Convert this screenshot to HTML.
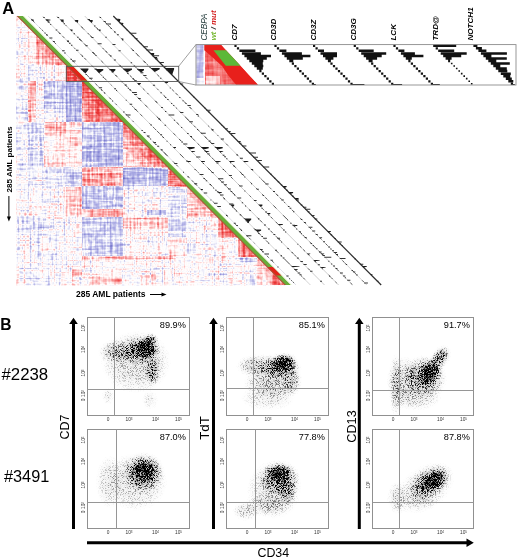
<!DOCTYPE html><html><head><meta charset="utf-8"><style>
html,body{margin:0;padding:0;background:#fff;}
body{width:520px;height:560px;overflow:hidden;position:relative;font-family:"Liberation Sans",sans-serif;}
svg{position:absolute;left:0;top:0;filter:blur(0.3px);}
</style></head><body>
<svg width="520" height="560" viewBox="0 0 520 560"><defs><clipPath id="tri"><path d="M16.2 15.8L17.3 15.8L285.8 285.5L16.2 285.5Z"/></clipPath><filter id="hb" x="0" y="0" width="1" height="1" color-interpolation-filters="sRGB"><feGaussianBlur stdDeviation="0.55"/></filter></defs><g clip-path="url(#tri)"><defs><filter id="tex" filterUnits="userSpaceOnUse" x="16" y="15.5" width="271" height="271" color-interpolation-filters="sRGB"><feTurbulence type="fractalNoise" baseFrequency="0.5 0.03" numOctaves="2" seed="3" result="a"/><feTurbulence type="fractalNoise" baseFrequency="0.03 0.5" numOctaves="2" seed="8" result="b"/><feTurbulence type="fractalNoise" baseFrequency="0.3" numOctaves="1" seed="11" result="c"/><feComposite in="a" in2="b" operator="arithmetic" k2="0.5" k3="0.5" result="ab"/><feComposite in="ab" in2="c" operator="arithmetic" k2="0.75" k3="0.25" result="m"/><feColorMatrix in="m" type="matrix" values="1 0 0 0 0 1 0 0 0 0 1 0 0 0 0 0 0 0 0 1" result="mg"/><feComposite in="SourceGraphic" in2="mg" operator="arithmetic" k2="1" k3="1.2" k4="-0.6" result="v"/><feComponentTransfer in="v"><feFuncR type="table" tableValues="0.420 0.467 0.513 0.560 0.620 0.680 0.740 0.822 0.904 0.975 1.000 1.000 0.997 0.994 0.990 0.980 0.970 0.960 0.943 0.927 0.910"/><feFuncG type="table" tableValues="0.420 0.467 0.513 0.560 0.620 0.680 0.740 0.822 0.904 0.975 1.000 0.975 0.899 0.809 0.720 0.627 0.533 0.440 0.360 0.280 0.200"/><feFuncB type="table" tableValues="0.760 0.790 0.820 0.850 0.873 0.897 0.920 0.945 0.970 0.992 1.000 0.975 0.899 0.809 0.720 0.627 0.533 0.440 0.360 0.280 0.200"/><feFuncA type="linear" slope="0" intercept="1"/></feComponentTransfer><feGaussianBlur stdDeviation="0.5"/></filter></defs><g filter="url(#tex)"><rect x="16" y="15.5" width="271" height="271" fill="#808080"/><path d="M16.2 14.9L28 26.7L16.2 26.7Z" fill="#8a8a8a"/><rect x="16.2" y="26.7" width="11.8" height="8" fill="#808080"/><path d="M28 26.7L36 34.8L28 34.8Z" fill="#8c8c8c"/><rect x="16.2" y="34.8" width="11.8" height="8" fill="#7d7d7d"/><rect x="28" y="34.8" width="8" height="8" fill="#8c8c8c"/><path d="M36 34.8L44 42.8L36 42.8Z" fill="#a3a3a3"/><rect x="16.2" y="42.8" width="11.8" height="22.1" fill="#7a7a7a"/><rect x="28" y="42.8" width="8" height="22.1" fill="#919191"/><rect x="36" y="42.8" width="8" height="22.1" fill="#a3a3a3"/><path d="M44 42.8L66 64.9L44 64.9Z" fill="#b0b0b0"/><rect x="16.2" y="64.9" width="11.8" height="16.1" fill="#919191"/><rect x="28" y="64.9" width="8" height="16.1" fill="#6b6b6b"/><rect x="36" y="64.9" width="8" height="16.1" fill="#707070"/><rect x="44" y="64.9" width="22" height="16.1" fill="#858585"/><path d="M66 64.9L82 81L66 81Z" fill="#ebebeb"/><rect x="16.2" y="81" width="11.8" height="41.2" fill="#757575"/><rect x="28" y="81" width="8" height="41.2" fill="#adadad"/><rect x="36" y="81" width="8" height="41.2" fill="#808080"/><rect x="44" y="81" width="22" height="41.2" fill="#585858"/><rect x="66" y="81" width="16" height="41.2" fill="#494949"/><path d="M82 81L123 122.1L82 122.1Z" fill="#b5b5b5"/><rect x="16.2" y="122.1" width="11.8" height="45.2" fill="#757575"/><rect x="28" y="122.1" width="8" height="45.2" fill="#606060"/><rect x="36" y="122.1" width="8" height="45.2" fill="#676767"/><rect x="44" y="122.1" width="22" height="45.2" fill="#999999"/><rect x="66" y="122.1" width="16" height="45.2" fill="#919191"/><rect x="82" y="122.1" width="41" height="45.2" fill="#535353"/><path d="M123 122.1L168 167.3L123 167.3Z" fill="#999999"/><rect x="16.2" y="167.3" width="11.8" height="19.1" fill="#787878"/><rect x="28" y="167.3" width="8" height="19.1" fill="#707070"/><rect x="36" y="167.3" width="8" height="19.1" fill="#737373"/><rect x="44" y="167.3" width="22" height="19.1" fill="#626262"/><rect x="66" y="167.3" width="16" height="19.1" fill="#5d5d5d"/><rect x="82" y="167.3" width="41" height="19.1" fill="#bababa"/><rect x="123" y="167.3" width="45" height="19.1" fill="#4b4b4b"/><path d="M168 167.3L187 186.4L168 186.4Z" fill="#cfcfcf"/><rect x="16.2" y="186.4" width="11.8" height="31.1" fill="#787878"/><rect x="28" y="186.4" width="8" height="31.1" fill="#828282"/><rect x="36" y="186.4" width="8" height="31.1" fill="#828282"/><rect x="44" y="186.4" width="22" height="31.1" fill="#808080"/><rect x="66" y="186.4" width="16" height="31.1" fill="#a8a8a8"/><rect x="82" y="186.4" width="41" height="31.1" fill="#535353"/><rect x="123" y="186.4" width="45" height="31.1" fill="#808080"/><rect x="168" y="186.4" width="19" height="31.1" fill="#707070"/><path d="M187 186.4L218 217.5L187 217.5Z" fill="#a3a3a3"/><rect x="16.2" y="217.5" width="11.8" height="20.1" fill="#7a7a7a"/><rect x="28" y="217.5" width="8" height="20.1" fill="#737373"/><rect x="36" y="217.5" width="8" height="20.1" fill="#737373"/><rect x="44" y="217.5" width="22" height="20.1" fill="#7d7d7d"/><rect x="66" y="217.5" width="16" height="20.1" fill="#808080"/><rect x="82" y="217.5" width="41" height="20.1" fill="#585858"/><rect x="123" y="217.5" width="45" height="20.1" fill="#8a8a8a"/><rect x="168" y="217.5" width="19" height="20.1" fill="#626262"/><rect x="187" y="217.5" width="31" height="20.1" fill="#7d7d7d"/><path d="M218 217.5L238 237.6L218 237.6Z" fill="#c4c4c4"/><rect x="16.2" y="237.6" width="11.8" height="19.1" fill="#7a7a7a"/><rect x="28" y="237.6" width="8" height="19.1" fill="#787878"/><rect x="36" y="237.6" width="8" height="19.1" fill="#787878"/><rect x="44" y="237.6" width="22" height="19.1" fill="#7d7d7d"/><rect x="66" y="237.6" width="16" height="19.1" fill="#7d7d7d"/><rect x="82" y="237.6" width="41" height="19.1" fill="#5b5b5b"/><rect x="123" y="237.6" width="45" height="19.1" fill="#808080"/><rect x="168" y="237.6" width="19" height="19.1" fill="#8c8c8c"/><rect x="187" y="237.6" width="31" height="19.1" fill="#7d7d7d"/><rect x="218" y="237.6" width="20" height="19.1" fill="#878787"/><path d="M238 237.6L257 256.7L238 256.7Z" fill="#c4c4c4"/><rect x="16.2" y="256.7" width="11.8" height="28.3" fill="#7a7a7a"/><rect x="28" y="256.7" width="8" height="28.3" fill="#7a7a7a"/><rect x="36" y="256.7" width="8" height="28.3" fill="#7a7a7a"/><rect x="44" y="256.7" width="22" height="28.3" fill="#7a7a7a"/><rect x="66" y="256.7" width="16" height="28.3" fill="#7d7d7d"/><rect x="82" y="256.7" width="41" height="28.3" fill="#828282"/><rect x="123" y="256.7" width="45" height="28.3" fill="#828282"/><rect x="168" y="256.7" width="19" height="28.3" fill="#828282"/><rect x="187" y="256.7" width="31" height="28.3" fill="#808080"/><rect x="218" y="256.7" width="20" height="28.3" fill="#808080"/><rect x="238" y="256.7" width="19" height="28.3" fill="#7d7d7d"/><path d="M257 256.7L285.2 285L257 285Z" fill="#9e9e9e"/><rect x="44" y="122" width="22" height="12" fill="#b2b2b2"/><rect x="44" y="113" width="22" height="9" fill="#757575"/><rect x="44" y="163" width="22" height="2" fill="#b2b2b2"/><rect x="82" y="209" width="41" height="8" fill="#b2b2b2"/><rect x="82" y="256" width="91" height="3.5" fill="#adadad"/><rect x="147" y="210" width="19" height="5" fill="#4c4c4c"/><rect x="239" y="258" width="18" height="4" fill="#666666"/><rect x="72.6" y="268.6" width="9.4" height="8" fill="#b2b2b2"/><rect x="90" y="276.6" width="32" height="8" fill="#a8a8a8"/><rect x="17" y="217.5" width="11" height="12.5" fill="#5c5c5c"/><rect x="82" y="167.3" width="41" height="5.7" fill="#adadad"/><rect x="123" y="217.5" width="45" height="10.5" fill="#a8a8a8"/><rect x="17" y="217.5" width="27" height="12.5" fill="#616161"/><path d="M82 81L123 122.1L93 122.1L82 111Z" fill="#c4c4c4"/><path d="M82 81L123 122.1L105 122.1L82 99Z" fill="#d4d4d4"/><path d="M82 81L123 122.1L115 122.1L82 89Z" fill="#e6e6e6"/><path d="M123 122.1L168 167.3L144 167.3L123 146.1Z" fill="#ababab"/><path d="M123 122.1L168 167.3L154 167.3L123 136.1Z" fill="#bfbfbf"/><path d="M123 122.1L168 167.3L162 167.3L123 128.1Z" fill="#cfcfcf"/><path d="M187 186.4L218 217.5L206 217.5L187 198.4Z" fill="#a6a6a6"/><path d="M187 186.4L218 217.5L212 217.5L187 192.4Z" fill="#b5b5b5"/><path d="M257 256.7L285.2 285L275.2 285L257 266.7Z" fill="#a1a1a1"/><path d="M257 256.7L285.2 285L280.2 285L257 261.7Z" fill="#b0b0b0"/><path d="M36 34.8L66 64.9L46 64.9L36 54.8Z" fill="#ababab"/><path d="M36 34.8L66 64.9L56 64.9L36 44.8Z" fill="#bababa"/><path d="M66 64.9L82 81L66 81Z" fill="#f2f2f2"/><path d="M172 171.3L187 186.4L172 186.4Z" fill="#e0e0e0"/><path d="M221 220.5L238 237.6L221 237.6Z" fill="#dbdbdb"/><path d="M241 240.6L257 256.7L241 256.7Z" fill="#dbdbdb"/><path d="M272 271.7L285.2 285L272 285Z" fill="#cccccc"/></g></g><path d="M17.3 16L23.1 16L291 285L285.2 285Z" fill="#68ad3a"/><path d="M68.1 67L73.9 67L87.3 80.5L81.5 80.5Z" fill="#e02418"/><path d="M267.3 267L273.1 267L281.6 275.5L275.8 275.5Z" fill="#e02418"/><path d="M16.7 16L18.1 16L286 285L284.6 285Z" fill="#b04830"/><path d="M23.1 16L24.3 16L292.2 285L291 285Z" fill="#eef6dc"/><path d="M28.1 16L296 285" stroke="#d8d8e2" stroke-width="0.8"/><path d="M42.5 16L310.4 285" stroke="#c8c8c8" stroke-width="0.8"/><path d="M56.6 16L324.5 285" stroke="#c0c0c0" stroke-width="0.8"/><path d="M70.7 16L338.6 285" stroke="#c0c0c0" stroke-width="0.8"/><path d="M84.7 16L352.6 285" stroke="#c4c4c4" stroke-width="0.8"/><path d="M98.9 16L366.8 285" stroke="#c8c8c8" stroke-width="0.8"/><path d="M113.3 16L381.2 285" stroke="#2c2c2c" stroke-width="1.2"/><path d="M195.1 183.7L196.1 184.7M266.9 255.8L268.8 257.7M234.8 223.6L236.2 224.9M89.5 77.7L91.7 79.9M109.3 97.5L110.9 99.2M260.7 249.5L262.3 251.1M31.5 19.4L33.2 21.1M246.8 235.6L248.6 237.4M240.5 229.2L241.5 230.2M153.6 142L155 143.4M110.1 98.3L111.2 99.4M103.6 91.8L104.9 93.1M97.4 85.5L98.3 86.5M147.6 135.9L149.7 138.1M163.3 151.7L164.4 152.8M176.2 164.7L177.9 166.4M292.8 281.8L294.1 283M239.3 228.1L241.3 230.1M194.3 182.9L196 184.6M291.1 280.1L292.1 281.1M86.9 75.1L88.9 77M72.4 60.5L74.5 62.6M191.8 180.3L193.8 182.4M41.7 29.6L43.3 31.2M39.5 27.5L40.5 28.5M166 154.4L167.1 155.5M153.1 141.5L155.2 143.6M272.2 261L273.7 262.6M196.2 184.7L197.2 185.8M165.8 154.2L167.8 156.3M161.2 149.7L162.9 151.4M95.4 83.6L97 85.2M33.2 21.1L34.5 22.5M80.9 69L82.2 70.4M212.7 201.4L213.9 202.5M83 71.2L83.9 72M127.6 115.9L129.6 118M31.1 19L32.5 20.4M249.2 238L250.7 239.5M70.9 58.9L72.1 60.2M100.7 88.9L102.6 90.8M262.4 251.3L263.3 252.1M164.6 153.1L166 154.4M253.7 242.5L254.5 243.3M198.9 187.5L199.9 188.5M225.9 214.6L228 216.7M54.2 42.2L56 44M172.9 161.4L174.3 162.8M164.1 152.6L165.6 154.1M260.1 248.9L262.1 250.9M125.4 113.7L126.7 115M188 176.5L189.6 178.1M45.7 33.7L47.5 35.5M132.4 120.7L133.7 122M115.4 103.6L116.9 105.1M246.5 220.8L247.9 222.3M284.5 258.9L286.1 260.6M84.4 58L86.1 59.8M290.9 265.4L292.1 266.6M45.9 19.4L48 21.5M243.2 217.5L244.7 219M258.4 232.8L260.1 234.5M80.6 54.2L82.3 55.9M155.1 129L156.1 130.1M259.7 234L260.6 234.9M48.3 21.8L49.6 23.2M210.4 184.5L212.2 186.4M253.8 228.2L255.7 230.1M179.9 153.9L181.7 155.8M236.1 210.4L237 211.3M104.3 78L106.3 80.1M96.9 70.6L98.8 72.5M140.3 114.2L142.4 116.3M91.8 65.5L93.4 67.1M135.8 109.7L137.9 111.8M294.7 269.3L295.6 270.1M195.8 169.9L196.7 170.8M134.2 108.1L135.1 108.9M116.2 90L117.3 91.1M295.8 270.3L296.9 271.4M161.8 135.8L162.9 136.8M303.3 277.8L304.8 279.4M180.6 154.6L181.4 155.5M182 156.1L183.7 157.7M281.1 255.6L282.2 256.6M240.5 214.8L242.3 216.6M197.7 171.9L198.6 172.7M157.1 131.1L158.3 132.3M276.3 250.7L278.4 252.8M153.1 127.1L154.7 128.6M288 262.5L290 264.5M62.6 36.2L64.3 37.9M158 131.9L159.6 133.6M181.6 155.7L182.7 156.7M295.5 270L297.1 271.6M110.7 84.5L111.6 85.4M257.2 231.6L259.2 233.5M223 197.3L225.2 199.4M233.8 208L235.7 210M210.7 184.8L211.5 185.7M300.9 275.5L302.2 276.7M132.3 106.2L133.5 107.4M149.6 123.5L150.6 124.5M98 71.8L99.7 73.4M57.9 31.4L59.8 33.4M100.7 74.4L101.9 75.7M286.1 260.6L288.1 262.6M266.2 240.6L268.2 242.6M74.2 47.8L75.1 48.8M203.9 178L205.7 179.9M291.6 251.9L293.3 253.7M110.7 70.3L111.6 71.2M210 170L211.8 171.8M227.2 187.3L229.1 189.2M219.4 179.5L221.4 181.4M84 43.5L85.7 45.2M233.1 193.2L234.4 194.5M225.4 185.5L226.3 186.4M276 236.3L277.6 237.9M270.7 230.9L272.5 232.8M144.9 104.7L146 105.8M249.2 209.3L250.3 210.5M287.5 247.8L289 249.4M294.3 254.6L296.1 256.5M101.2 60.8L103.3 62.9M65.6 25.1L66.6 26.1M230.4 190.5L231.4 191.5M115.3 74.9L117.2 76.8M207.4 167.4L209.1 169.1M308 268.4L309.8 270.2M158.7 118.5L160.9 120.7M125.3 85L127.4 87.1M179.1 139L181.1 141M232.1 192.2L233.9 194.1M85.3 44.8L86.6 46.1M159 118.9L160.7 120.6M93.9 53.4L94.9 54.5M233.4 193.5L235.3 195.4M277.8 238.1L279.7 240M158.1 117.9L159.9 119.7M156.7 116.5L158.1 117.9M201 161L202.3 162.3M115.4 75L116.7 76.4M123.9 83.6L124.7 84.4M145.7 105.4L147.6 107.4M179.3 139.2L180.9 140.8M80.1 39.6L81.4 40.9M257.3 217.5L258.8 219M211.4 171.4L213.2 173.3M137.7 97.4L139 98.8M79.1 38.5L81 40.5M260 220.2L262.1 222.3M93.2 52.7L94.5 54.1M93.8 53.3L94.7 54.3M93.1 52.6L94.9 54.5M80 39.5L82.2 41.7M297.8 258.2L298.8 259.2M129.7 89.3L131.4 91.1M139.5 99.2L141.4 101.2M278.4 238.7L280.5 240.8M222.2 182.3L223.2 183.3M108 67.6L108.9 68.5M173.4 133.2L175.5 135.4M291.9 252.2L292.9 253.2M157.7 117.5L158.7 118.5M224.4 170.4L225.9 171.8M190.5 136.3L192.5 138.3M270.8 216.9L272.6 218.7M123 68.5L124.9 70.5M314 260.3L315.9 262.2M130 75.6L131.8 77.3M275.7 221.8L277.7 223.8M90.5 35.9L92.3 37.7M197.6 143.5L199.5 145.3M81.3 26.6L82.5 27.9M155.5 101.2L156.5 102.2M155.1 100.7L157 102.6M262.7 208.7L263.7 209.8M192.8 138.6L194.9 140.7M87.7 33L89.3 34.7M335.4 281.8L336.7 283M307.3 253.5L309.4 255.6M314.5 260.8L315.6 261.8M137.8 83.3L139.3 84.9M176.7 122.4L177.6 123.4M132.7 78.2L134.8 80.4M105.7 51.1L107.3 52.7M81.4 26.8L83.3 28.7M205.5 151.4L206.7 152.6M105.2 50.6L107.1 52.6M119.2 64.7L121 66.5M299.8 246L301.5 247.7M200.5 146.3L202.6 148.5M121.2 66.7L122.6 68.1M249.5 195.5L250.9 196.9M142.9 88.5L144.6 90.2M211.8 157.6L213.7 159.6M147.4 93L148.6 94.3M208.9 154.8L210.7 156.5M238.6 184.6L239.7 185.7M214.2 160.1L215.8 161.7M177.1 122.8L179 124.7M281.4 227.6L282.3 228.5M303.2 249.5L305 251.3M120 65.5L120.9 66.4M108.7 54.1L110.8 56.3M102.6 48L104 49.5M331.2 277.6L332.6 279M321.2 267.5L323 269.3M133.6 79.1L135.1 80.7M328.7 275L330.5 276.8M127.5 73.1L128.5 74M206.4 152.2L208 153.8M204 149.8L205.5 151.4M314.2 260.5L316.3 262.6M83.4 28.7L84.2 29.6M155.9 101.6L157.4 103M231 177L232.7 178.7M90.2 35.6L91.8 37.2M135.1 80.7L136 81.6M243.3 175.2L244.2 176.1M145.3 76.9L147.3 78.9M138.3 69.8L139.5 71.1M318.6 250.9L320.1 252.3M138.9 70.4L140 71.5M206.6 138.4L208 139.8M284.7 216.8L286.7 218.8M273.4 205.4L275.3 207.4M232.8 164.7L234.2 166.1M299.7 231.9L301.6 233.7M209.6 141.4L211.1 142.9M250.4 182.4L251.8 183.7M302.8 235L304.4 236.6M265.7 197.7L266.7 198.8M256.1 188.1L257.3 189.3M193.9 125.6L195.7 127.4M234.1 166L235.9 167.8M191.2 123L192.1 123.8M283.1 215.2L285 217.1M187.1 118.8L189 120.8M209.9 141.7L211.3 143.1M286.1 218.2L287 219.1M219.6 151.5L221.4 153.2M175.9 107.6L177.1 108.7M304.9 237.1L306.6 238.8M187.2 119L188.6 120.3M309.6 241.9L311.3 243.5M293.9 226.1L295.1 227.3M204.7 136.5L206.2 138M274.9 206.9L276.4 208.5M95.8 27.1L97.4 28.8M189.6 121.3L190.7 122.4M313.8 246L315.9 248.1M239.7 171.6L240.9 172.8M233.9 165.8L235.1 167.1M262.1 194.2L263.3 195.3M265.6 197.6L266.4 198.5M240.7 172.7L242.1 174M197.7 129.5L199.6 131.3M135.1 66.6L136.9 68.4M163.9 95.6L165 96.6M164 95.6L165 96.6M200.4 132.1L201.6 133.4M350.4 282.8L352.3 284.6M179.7 111.4L181.2 112.9M204.8 136.6L206.9 138.6M184.8 116.5L186.5 118.2M240.2 172.1L241.8 173.7M336.9 269.2L338.7 271.1M321.4 253.6L323.2 255.5M186.2 117.9L187.5 119.2M157.1 88.7L158.3 89.9M320.1 252.4L321.5 253.8M217 148.9L218.5 150.4M267.6 199.7L268.6 200.7M217.4 135L218.4 136M269.8 187.6L271 188.8M136.7 54L138.1 55.4M137.3 54.6L139.4 56.7M146.7 64L147.9 65.2M175.7 93.1L177.7 95.1M354.7 272.9L356.5 274.6M107.7 24.8L109.7 26.8M149.4 66.7L150.7 68.1M144.5 61.7L145.3 62.5M226.1 143.7L228 145.6M104.9 22L106 23.1M221.8 139.4L222.8 140.4M143.9 61.2L145.8 63.1M172.1 89.5L173.8 91.2M310 228L311.1 229.1M149.5 66.8L150.6 68M263.8 181.5L265.9 183.7M208.1 125.7L209.3 126.8M211.1 128.7L212.9 130.4M316.5 234.5L317.5 235.4M143.4 60.6L145.3 62.6M344.7 262.8L345.7 263.8M336.7 254.8L338.2 256.3M277.3 195.1L278.1 196M113.9 31.1L115.5 32.7M276 193.8L277.9 195.8M259.3 177.1L260.3 178M304.7 222.6L305.9 223.8M157.3 74.7L159.2 76.5M352.5 270.6L354.2 272.3M334.8 252.8L336 254.1M131.1 48.3L132.7 50M184.1 101.5L185.5 103M109.5 26.6L111.5 28.6M320.2 238.2L321.4 239.4M342.4 260.5L344.3 262.4M362.1 280.3L363.8 282M262.4 180.2L264.2 182M276.7 194.5L278 195.8M280 197.8L281.8 199.6M251.4 169.1L253.1 170.9M352.3 270.4L353.6 271.7M261.3 179.1L262.2 179.9M189.5 107L191.6 109.1M236.3 153.9L238.1 155.7M105.8 22.9L106.9 24M292 209.9L293.8 211.7M284 201.9L285.2 203.1M212 129.6L213.5 131M325.6 243.6L327.6 245.6M300.3 218.2L301.7 219.6M189.8 107.2L191 108.4M121.3 38.5L122.6 39.8M135.8 53L136.7 53.9" stroke="#555" stroke-width="0.9"/><path d="M31.3 19.5L33.6 19.5L33.6 20.5L33.6 21.5ZM45.7 19.5L48.5 19.5L48.5 20.8L48.5 22ZM59.8 19.5L63.6 19.5L63.6 20.8L63.6 23ZM74.4 20L78.2 20L78.2 21.3L77.7 23ZM88.4 20L92.7 20L92.7 21.3L91.7 23ZM116 19L120.3 19L120.3 20.3L119.3 22ZM120 23L123.3 23L123.3 24L122.3 25ZM69.7 29.5L72.5 29.5L72.5 30.5L72 31.5ZM97.8 29.5L100.6 29.5L100.6 30.5L100.1 31.5ZM149.9 53L154.2 53L154.2 54.3L153.1 56ZM153.8 57L157.1 57L157.1 58L156.1 59ZM121 38.5L123.3 38.5L123.3 39.5L123.3 40.5ZM66.6 40.5L68.9 40.5L68.9 41.5L68.9 42.5ZM80.1 68.5L88.4 68.5L88.4 69.8L85.4 73.5ZM95 69L103.3 69L103.3 70.3L99.3 73ZM109.1 69L115.4 69L115.4 70.3L112.9 72.5ZM122.7 68.5L132 68.5L132 69.8L127 72.5ZM137.2 69L144 69L144 70.3L141 72.5ZM150.4 68L159.7 68L159.7 69.3L154.7 72ZM164.8 68L174.1 68L174.1 69.3L172.1 75ZM137.1 83L140.9 83L140.9 83.8L138.9 84.5ZM164.3 82L168.1 82L168.1 82.8L166.1 83.5ZM172.7 147L176 147L176 147.8L174.5 148.5ZM186.8 147L194.6 147L194.6 148.2L189.6 149.5ZM200.9 147L208.7 147L208.7 148.2L203.7 149.5ZM214.9 147L222.7 147L222.7 148.2L217.7 149.5ZM190.8 151L195.1 151L195.1 151.6L192.3 152.2ZM204.9 151L209.2 151L209.2 151.6L206.4 152.2ZM218.9 151L223.2 151L223.2 151.6L220.4 152.2ZM186.6 161L190.9 161L190.9 161.7L188.2 162.3ZM200.7 161L205 161L205 161.7L202.3 162.3ZM214.8 161L220.6 161L220.6 161.7L216.4 162.3ZM228.8 161L234.6 161L234.6 161.7L230.4 162.3ZM243 161L248.3 161L248.3 161.7L244.6 162.3ZM200.1 189L202.9 189L202.9 189.8L201.9 190.5ZM217.5 192L221.8 192L221.8 192.8L219.3 193.5ZM229.9 204.5L234.2 204.5L234.2 205.8L232.7 207ZM258.1 204.5L262.4 204.5L262.4 205.8L260.9 207ZM266.6 213L270.4 213L270.4 213.8L268.4 214.5ZM243.9 218.5L251.2 218.5L251.2 219.8L248.2 222.5ZM277.6 224L282.9 224L282.9 224.8L279.4 225.5ZM292.6 225L297.4 225L297.4 225.8L294.4 226.5ZM254.8 229.5L261.1 229.5L261.1 230.8L257.6 232ZM327.1 231L330.9 231L330.9 231.8L328.9 232.5ZM282.3 186L286.6 186L286.6 187L284.6 188ZM288.3 192L293.1 192L293.1 193L290.6 194ZM294.3 198L298.6 198L298.6 199L296.6 200ZM313.4 260L319.7 260L319.7 260.6L315 261.3ZM291.2 266L299.5 266L299.5 266.6L292.8 267.3ZM320.4 267L325.7 267L325.7 267.6L322 268.3ZM362 266L366.8 266L366.8 266.8L363.8 267.5ZM307 253.5L310.3 253.5L310.3 254.1L308.4 254.7ZM320.9 253.5L324.2 253.5L324.2 254.1L322.4 254.7Z" fill="#1c1c1c"/><path d="M31.6 19.7h1.2v1h-1.2zM44.4 32.5h1.1v1h-1.1zM46.2 34.4h1.6v1h-1.6zM49.4 37.6h3v1h-3zM52.9 41.1h1.9v1h-1.9zM62.1 50.3h2.6v1h-2.6zM64.2 52.4h1.5v1h-1.5zM70.5 58.8h1.2v1h-1.2zM72.2 60.5h3.4v1h-3.4zM85.6 73.9h1.3v1h-1.3zM89.3 77.7h3.3v1h-3.3zM98.8 87.2h3.3v1h-3.3zM101.1 89.5h1v1h-1zM104.3 92.7h1v1h-1zM112 100.4h1.1v1h-1.1zM123.1 111.6h1.5v1h-1.5zM125.9 114.4h4.7v1h-4.7zM141.5 130h1.3v1h-1.3zM143.6 132.1h1.9v1h-1.9zM146.9 135.5h2.7v1h-2.7zM150.1 138.6h1v1h-1zM153.5 142.1h2.5v1h-2.5zM155.4 144h1.1v1h-1.1zM157.2 145.8h2v1h-2zM160.7 149.3h1.9v1h-1.9zM174.2 162.9h3.2v1h-3.2zM183 171.7h1v1h-1zM187.5 176.2h1.2v1h-1.2zM194.4 183.2h2.8v1h-2.8zM203.8 192.6h3.4v1h-3.4zM210.5 199.4h0.9v1h-0.9zM214 202.8h3.6v1h-3.6zM217.3 206.1h3.6v1h-3.6zM226 214.9h1.4v1h-1.4zM233.8 222.7h1.9v1h-1.9zM236.2 225.1h1.7v1h-1.7zM240.9 229.9h1.1v1h-1.1zM246.2 235.2h5.2v1h-5.2zM259.9 248.9h2.8v1h-2.8zM262.1 251.2h1.6v1h-1.6zM264.5 253.5h4.5v1h-4.5zM270.6 259.7h2.2v1h-2.2zM277.4 266.5h1.1v1h-1.1zM286.4 275.5h2.2v1h-2.2zM289.1 278.3h1v1h-1zM43.3 17h1.4v1h-1.4zM45.9 19.6h4.5v1h-4.5zM47.7 21.4h1.9v1h-1.9zM50.2 23.9h1v1h-1zM55.7 29.5h1.6v1h-1.6zM59.3 33.1h1.2v1h-1.2zM67.2 41h1.7v1h-1.7zM69 42.8h1.6v1h-1.6zM71 44.8h1.4v1h-1.4zM76 49.8h2.5v1h-2.5zM81.9 55.7h1.2v1h-1.2zM94.5 68.4h2.2v1h-2.2zM102.8 76.7h1.2v1h-1.2zM114.2 88.2h1.8v1h-1.8zM116 89.9h0.9v1h-0.9zM125.8 99.8h0.9v1h-0.9zM129.7 103.8h2.5v1h-2.5zM134.8 108.9h1.5v1h-1.5zM150.5 124.6h1.4v1h-1.4zM160.1 134.2h2v1h-2zM162.8 137h1.1v1h-1.1zM166.6 140.8h0.9v1h-0.9zM170.1 144.3h1v1h-1zM186.1 160.4h1.6v1h-1.6zM194.6 168.9h1v1h-1zM199.6 174h3.9v1h-3.9zM203.5 177.9h1.3v1h-1.3zM205.8 180.2h1.4v1h-1.4zM209.6 183.9h1.4v1h-1.4zM213 187.4h0.9v1h-0.9zM215.3 189.7h1.3v1h-1.3zM216.9 191.3h1.7v1h-1.7zM220 194.4h3.5v1h-3.5zM223.8 198.3h1v1h-1zM229 203.4h4.3v1h-4.3zM232.3 206.8h1.2v1h-1.2zM235.9 210.4h1v1h-1zM239.7 214.2h1.4v1h-1.4zM245.7 220.2h1.1v1h-1.1zM247.3 221.9h1.7v1h-1.7zM254.7 229.3h1.2v1h-1.2zM258.3 232.9h1v1h-1zM261.4 236h1.6v1h-1.6zM263.2 237.8h3.7v1h-3.7zM268.2 242.8h1v1h-1zM275.1 249.8h1.9v1h-1.9zM280.5 255.2h1.5v1h-1.5zM282.8 257.4h1.7v1h-1.7zM294.2 269h3.4v1h-3.4zM297.7 272.4h2.5v1h-2.5zM299.5 274.2h2v1h-2zM57.4 17h1.7v1h-1.7zM61.2 20.8h1.2v1h-1.2zM63.7 23.3h1.3v1h-1.3zM73.6 33.3h1.4v1h-1.4zM77.1 36.8h1.5v1h-1.5zM79 38.7h1.2v1h-1.2zM85.6 45.3h2.1v1h-2.1zM92.3 52h1.3v1h-1.3zM95.4 55.1h1.2v1h-1.2zM109.4 69.2h1v1h-1zM111.7 71.5h1.9v1h-1.9zM121.4 81.3h1.5v1h-1.5zM124.7 84.6h2v1h-2zM127.8 87.7h1.2v1h-1.2zM129.3 89.2h1.5v1h-1.5zM132 91.9h4.8v1h-4.8zM134.2 94.1h2.9v1h-2.9zM138.1 98h2.6v1h-2.6zM158.4 118.4h1.7v1h-1.7zM164.6 124.7h1.5v1h-1.5zM181.3 141.4h1.6v1h-1.6zM183.3 143.4h4.1v1h-4.1zM196.2 156.4h4.2v1h-4.2zM202.9 163.1h0.9v1h-0.9zM208.8 169h1v1h-1zM211.7 172h1.9v1h-1.9zM218 178.2h5.3v1h-5.3zM221.1 181.4h3v1h-3zM223.9 184.2h3v1h-3zM228.3 188.6h2.5v1h-2.5zM230.6 190.9h1.6v1h-1.6zM234.2 194.5h0.9v1h-0.9zM237.3 197.6h3.9v1h-3.9zM241.8 202.2h1.3v1h-1.3zM245 205.4h1.1v1h-1.1zM249.5 209.9h1.2v1h-1.2zM258 218.4h1.5v1h-1.5zM264 224.4h1.9v1h-1.9zM268 228.4h1.8v1h-1.8zM273.4 233.9h1.9v1h-1.9zM277.3 237.8h2.8v1h-2.8zM281 241.5h1.1v1h-1.1zM287.5 248h1.1v1h-1.1zM296.9 257.5h1.8v1h-1.8zM300.4 261h2.5v1h-2.5zM303.5 264.1h3.2v1h-3.2zM310.1 270.7h2.4v1h-2.4zM320.1 280.8h1.9v1h-1.9zM75.2 20.8h1.4v1h-1.4zM91.6 37.1h1.9v1h-1.9zM97.6 43.2h4v1h-4zM110 55.6h1.6v1h-1.6zM113.9 59.6h2v1h-2zM120.1 65.8h1v1h-1zM127 72.7h1.7v1h-1.7zM132.5 78.2h1.4v1h-1.4zM134.4 80.2h2.4v1h-2.4zM138 83.8h2.1v1h-2.1zM161.1 106.9h1.8v1h-1.8zM165 110.9h1.3v1h-1.3zM168.6 114.5h5.7v1h-5.7zM173.9 119.8h1.2v1h-1.2zM181.1 127h1.1v1h-1.1zM187.1 133h1.5v1h-1.5zM190.1 136.1h1.9v1h-1.9zM204.6 150.6h1.4v1h-1.4zM207.5 153.5h2.2v1h-2.2zM216.5 162.6h2.1v1h-2.1zM222.8 168.9h1.1v1h-1.1zM228.9 175h3v1h-3zM239.4 185.6h3.2v1h-3.2zM244.4 190.6h0.9v1h-0.9zM253.9 200.1h2.7v1h-2.7zM261.5 207.8h1.2v1h-1.2zM265.2 211.5h1.9v1h-1.9zM268.2 214.5h1.3v1h-1.3zM283 229.4h1.7v1h-1.7zM285.1 231.5h1.1v1h-1.1zM297.4 243.8h0.9v1h-0.9zM317.8 264.3h2.1v1h-2.1zM320.5 267h1.4v1h-1.4zM329.2 275.7h1v1h-1zM87.6 19.1h2.4v1h-2.4zM94 25.6h1.5v1h-1.5zM97 28.6h1v1h-1zM105.3 36.8h1.5v1h-1.5zM112.5 44.1h3v1h-3zM118.5 50.2h2.2v1h-2.2zM130.7 62.3h1.4v1h-1.4zM133.7 65.4h1.4v1h-1.4zM137 68.7h1.7v1h-1.7zM140.5 72.2h2.9v1h-2.9zM143.3 75h3.2v1h-3.2zM152.9 84.7h2.2v1h-2.2zM160.4 92.2h1.4v1h-1.4zM165.1 97h1.2v1h-1.2zM167.2 99.1h1.4v1h-1.4zM171.1 102.9h1.1v1h-1.1zM173.2 105.1h1.1v1h-1.1zM180.2 112.1h3.2v1h-3.2zM189.4 121.3h3.5v1h-3.5zM197 129h1v1h-1zM200.9 132.8h4.8v1h-4.8zM208.5 140.5h2.1v1h-2.1zM211.1 143.1h3.2v1h-3.2zM214.8 146.8h1.2v1h-1.2zM222.7 154.7h1.8v1h-1.8zM224.2 156.3h1.7v1h-1.7zM226.2 158.2h1.2v1h-1.2zM230.1 162.2h1v1h-1zM233.6 165.7h1.3v1h-1.3zM241.8 173.9h1.5v1h-1.5zM244.3 176.4h1v1h-1zM251 183.2h1.1v1h-1.1zM256.7 188.8h2.1v1h-2.1zM262.7 194.9h1.4v1h-1.4zM287 219.3h0.9v1h-0.9zM290.3 222.7h1.2v1h-1.2zM292.5 224.8h2.4v1h-2.4zM296.1 228.4h1.1v1h-1.1zM298.9 231.3h2v1h-2zM301 233.3h0.9v1h-0.9zM304.7 237h1.9v1h-1.9zM310.7 243.1h1.4v1h-1.4zM312.7 245.1h1.2v1h-1.2zM315.9 248.3h1.6v1h-1.6zM319.1 251.5h2.5v1h-2.5zM322.5 255h2.4v1h-2.4zM324.3 256.7h7v1h-7zM328.3 260.7h1.1v1h-1.1zM331.1 263.6h1.1v1h-1.1zM333.1 265.6h1.9v1h-1.9zM335.5 268h1.9v1h-1.9zM340 272.5h2.9v1h-2.9zM343.1 275.6h2.2v1h-2.2zM344.8 277.3h1.1v1h-1.1zM347.2 279.7h3.2v1h-3.2zM99.7 17h1.4v1h-1.4zM103.6 20.9h2.1v1h-2.1zM106.2 23.5h4.8v1h-4.8zM110.7 28h1v1h-1zM114.2 31.6h1.4v1h-1.4zM116.9 34.2h1.9v1h-1.9zM122.1 39.5h1v1h-1zM132.5 49.9h1.5v1h-1.5zM160.1 77.7h1.3v1h-1.3zM169.8 87.4h1v1h-1zM179.2 96.9h1.2v1h-1.2zM182.5 100.2h1.1v1h-1.1zM185.4 103.1h1.2v1h-1.2zM187.5 105.1h3.3v1h-3.3zM196.2 113.9h2.1v1h-2.1zM197.7 115.4h1.3v1h-1.3zM211.6 129.3h2v1h-2zM220.8 138.6h3.2v1h-3.2zM236.6 154.4h1.3v1h-1.3zM239.9 157.8h3v1h-3zM250.9 168.9h2.2v1h-2.2zM265.5 183.4h3.1v1h-3.1zM273 191h2v1h-2zM281.4 199.5h2.4v1h-2.4zM287.9 205.9h1.6v1h-1.6zM289.6 207.7h1.7v1h-1.7zM293.1 211.2h1.2v1h-1.2zM300.8 218.9h1.5v1h-1.5zM303.9 222h1.9v1h-1.9zM308.6 226.8h3.8v1h-3.8zM312.2 230.4h3v1h-3zM315.7 233.9h2v1h-2zM319.2 237.3h2.9v1h-2.9zM323.1 241.3h1.9v1h-1.9zM328.2 246.4h1.9v1h-1.9zM330.3 248.5h1.3v1h-1.3zM332.1 250.3h1.9v1h-1.9zM333.7 251.9h3.4v1h-3.4zM335.9 254.1h2.1v1h-2.1zM339.7 257.9h5.8v1h-5.8zM345.8 264.1h1.3v1h-1.3zM351.6 270h1.3v1h-1.3zM353.3 271.6h2v1h-2zM356.3 274.6h1.4v1h-1.4zM364.1 282.5h3.8v1h-3.8zM115.8 18.8h3.5v1h-3.5zM119.8 22.7h2.8v1h-2.8zM126.8 29.8h1.1v1h-1.1zM129.8 32.8h6.6v1h-6.6zM132 35h1.5v1h-1.5zM134.9 37.9h2.6v1h-2.6zM139.9 42.9h1.5v1h-1.5zM143.3 46.3h4.6v1h-4.6zM146.5 49.6h6.5v1h-6.5zM152.1 55.2h7v1h-7zM155.5 58.6h2.6v1h-2.6zM159 62.1h4.9v1h-4.9zM162.8 65.9h3.8v1h-3.8zM166.4 69.6h1.3v1h-1.3zM177.1 80.3h1.2v1h-1.2zM180.3 83.5h2.9v1h-2.9zM184.8 88h1v1h-1zM193.3 96.5h1v1h-1zM204.6 107.8h1.1v1h-1.1zM206.4 109.7h4.2v1h-4.2zM208.3 111.6h1.5v1h-1.5zM221.6 125h1.5v1h-1.5zM223.2 126.6h1.1v1h-1.1zM224.9 128.3h3v1h-3zM227.8 131.1h2.9v1h-2.9zM229.7 133.1h5.7v1h-5.7zM231.6 134.9h1.2v1h-1.2zM237.6 141h3.1v1h-3.1zM239.4 142.8h2v1h-2zM242 145.4h4.4v1h-4.4zM246.5 150h1.2v1h-1.2zM249 152.5h7v1h-7zM253.2 156.7h4.8v1h-4.8zM256.7 160.1h5.2v1h-5.2zM259.3 162.8h1v1h-1zM263.1 166.6h6.1v1h-6.1zM270.3 173.8h1.6v1h-1.6zM274.1 177.7h1.3v1h-1.3zM277.7 181.3h1.5v1h-1.5zM280.9 184.5h1.3v1h-1.3zM284.2 187.8h1v1h-1zM286.1 189.7h1.8v1h-1.8zM288.7 192.3h1v1h-1zM292 195.7h1.9v1h-1.9zM296 199.6h3v1h-3zM300.8 204.5h1.5v1h-1.5zM303 206.7h3.4v1h-3.4zM305.1 208.8h5.2v1h-5.2zM307.7 211.3h1.8v1h-1.8zM311.4 215.1h3.1v1h-3.1zM314.8 218.5h2.5v1h-2.5zM318.1 221.9h1.7v1h-1.7zM328.1 231.8h0.9v1h-0.9zM330.6 234.3h1.5v1h-1.5zM334.1 237.9h1.8v1h-1.8zM337.8 241.6h3.9v1h-3.9zM339.4 243.2h1.5v1h-1.5zM341.3 245.1h1.4v1h-1.4zM354.6 258.5h1.4v1h-1.4zM357 260.9h1v1h-1zM359.9 263.8h3.4v1h-3.4zM370.2 274.1h2.2v1h-2.2zM372 275.9h0.9v1h-0.9zM376.9 280.8h1.6v1h-1.6z" fill="#333"/><text x="2.3" y="13.8" font-size="16.5" font-weight="bold">A</text><text x="76" y="297.3" font-size="8.5" font-weight="bold">285 AML patients</text><path d="M150 294.5H164" stroke="#000" stroke-width="1"/><path d="M166.5 294.5L161.5 292.5V296.5Z"/><text transform="translate(11.8 192.5) rotate(-90)" text-anchor="start" font-size="8.1" font-weight="bold" font-style="normal" fill="#000">285 AML patients</text><path d="M8.9 196V219" stroke="#000" stroke-width="1"/><path d="M8.9 221.5L6.9 216.5H10.9Z"/><rect x="66.3" y="66.3" width="112.4" height="15.2" fill="none" stroke="#555" stroke-width="0.9"/><path d="M178.7 66.3L196 44.6M178.7 81.5L196 85" stroke="#777" stroke-width="0.7"/><rect x="196" y="44.6" width="320" height="40.4" fill="#fff"/><defs><filter id="tex2" filterUnits="userSpaceOnUse" x="196" y="44.6" width="64" height="40.4" color-interpolation-filters="sRGB"><feTurbulence type="fractalNoise" baseFrequency="0.3 0.05" numOctaves="2" seed="21" result="a"/><feTurbulence type="fractalNoise" baseFrequency="0.05 0.3" numOctaves="2" seed="22" result="b"/><feComposite in="a" in2="b" operator="arithmetic" k2="0.5" k3="0.5" result="m"/><feColorMatrix in="m" type="matrix" values="1 0 0 0 0 1 0 0 0 0 1 0 0 0 0 0 0 0 0 1" result="mg"/><feComposite in="SourceGraphic" in2="mg" operator="arithmetic" k2="1" k3="0.54" k4="-0.27" result="v"/><feComponentTransfer in="v"><feFuncR type="table" tableValues="0.420 0.467 0.513 0.560 0.620 0.680 0.740 0.822 0.904 0.975 1.000 1.000 0.997 0.994 0.990 0.980 0.970 0.960 0.943 0.927 0.910"/><feFuncG type="table" tableValues="0.420 0.467 0.513 0.560 0.620 0.680 0.740 0.822 0.904 0.975 1.000 0.975 0.899 0.809 0.720 0.627 0.533 0.440 0.360 0.280 0.200"/><feFuncB type="table" tableValues="0.760 0.790 0.820 0.850 0.873 0.897 0.920 0.945 0.970 0.992 1.000 0.975 0.899 0.809 0.720 0.627 0.533 0.440 0.360 0.280 0.200"/><feFuncA type="linear" slope="0" intercept="1"/></feComponentTransfer><feGaussianBlur stdDeviation="0.6"/></filter><clipPath id="icl"><path d="M196.2 44.6H221L258.5 85H196.2Z"/></clipPath></defs><g clip-path="url(#icl)"><g filter="url(#tex2)"><rect x="196" y="44.6" width="64" height="40.4" fill="#808080"/><rect x="196.2" y="44.6" width="7.3" height="33.4" fill="#4c4c4c"/><rect x="196.2" y="78" width="7.3" height="7" fill="#707070"/><path d="M205 44.7L221 44.7L258 84.8L205 84.8Z" fill="#d6d6d6"/><path d="M206 76h14v9h-14z" fill="#a8a8a8"/></g></g><rect x="203.5" y="44.6" width="1.2" height="40.4" fill="#fff" fill-opacity=".6"/><path d="M204.3 44.7L221 44.7L258 84.8L236 84.8L228 75L222 66L211 56L204.3 50.2Z" fill="#e8201c"/><path d="M213.5 50.2L226 50.2L240.6 65.8L225.8 65.8Z" fill="#5cb838"/><path d="M234.4 44.8h2.2v2.2h-2.2zM236.9 47.3h2.2v2.2h-2.2zM239.4 49.9h2.2v2.2h-2.2zM239.4 49.6h16.0v2.52h-16.0zM241.9 52.4h2.2v2.2h-2.2zM241.9 52.2h19.0v2.52h-19.0zM244.4 54.9h2.2v2.2h-2.2zM244.4 54.7h26.6v2.52h-26.6zM246.8 57.4h2.2v2.2h-2.2zM246.8 57.2h20.0v2.52h-20.0zM249.3 60.0h2.2v2.2h-2.2zM249.3 59.8h14.0v2.52h-14.0zM251.8 62.5h2.2v2.2h-2.2zM251.8 62.3h11.0v2.52h-11.0zM254.3 65.0h2.2v2.2h-2.2zM254.3 64.8h9.0v2.52h-9.0zM256.8 67.5h2.2v2.2h-2.2zM256.8 67.3h6.0v2.52h-6.0zM259.3 70.0h2.2v2.2h-2.2zM259.3 69.8h2.0v2.52h-2.0zM261.8 72.6h2.2v2.2h-2.2zM264.3 75.1h2.2v2.2h-2.2zM266.8 77.6h2.2v2.2h-2.2zM269.3 80.2h2.2v2.2h-2.2zM271.8 82.7h2.2v2.2h-2.2z" fill="#111"/><path d="M274.4 44.8h2.2v2.2h-2.2zM276.9 47.3h2.2v2.2h-2.2zM279.4 49.9h2.2v2.2h-2.2zM279.4 49.6h7.0v2.52h-7.0zM281.9 52.4h2.2v2.2h-2.2zM281.9 52.2h20.0v2.52h-20.0zM284.4 54.9h2.2v2.2h-2.2zM284.4 54.7h26.0v2.52h-26.0zM286.8 57.4h2.2v2.2h-2.2zM286.8 57.2h16.0v2.52h-16.0zM289.3 60.0h2.2v2.2h-2.2zM289.3 59.8h4.0v2.52h-4.0zM291.8 62.5h2.2v2.2h-2.2zM294.3 65.0h2.2v2.2h-2.2zM296.8 67.5h2.2v2.2h-2.2zM299.3 70.0h2.2v2.2h-2.2zM301.8 72.6h2.2v2.2h-2.2zM304.3 75.1h2.2v2.2h-2.2zM306.8 77.6h2.2v2.2h-2.2zM309.3 80.2h2.2v2.2h-2.2zM311.8 82.7h2.2v2.2h-2.2zM311.8 84.0h4.0v1.00h-4.0z" fill="#111"/><path d="M313.0 44.8h2.2v2.2h-2.2zM315.5 47.3h2.2v2.2h-2.2zM318.0 49.9h2.2v2.2h-2.2zM318.0 49.6h6.0v2.52h-6.0zM320.5 52.4h2.2v2.2h-2.2zM320.5 52.2h16.5v2.52h-16.5zM323.0 54.9h2.2v2.2h-2.2zM323.0 54.7h14.0v2.52h-14.0zM325.4 57.4h2.2v2.2h-2.2zM325.4 57.2h8.0v2.52h-8.0zM327.9 60.0h2.2v2.2h-2.2zM327.9 59.8h3.0v2.52h-3.0zM330.4 62.5h2.2v2.2h-2.2zM332.9 65.0h2.2v2.2h-2.2zM335.4 67.5h2.2v2.2h-2.2zM337.9 70.0h2.2v2.2h-2.2zM340.4 72.6h2.2v2.2h-2.2zM342.9 75.1h2.2v2.2h-2.2zM345.4 77.6h2.2v2.2h-2.2zM347.9 80.2h2.2v2.2h-2.2zM350.4 82.7h2.2v2.2h-2.2zM350.4 84.0h14.0v1.00h-14.0z" fill="#111"/><path d="M353.7 44.8h2.2v2.2h-2.2zM356.2 47.3h2.2v2.2h-2.2zM358.7 49.9h2.2v2.2h-2.2zM358.7 49.6h15.0v2.52h-15.0zM361.2 52.4h2.2v2.2h-2.2zM361.2 52.2h25.0v2.52h-25.0zM363.7 54.9h2.2v2.2h-2.2zM363.7 54.7h18.0v2.52h-18.0zM366.1 57.4h2.2v2.2h-2.2zM366.1 57.2h11.0v2.52h-11.0zM368.6 60.0h2.2v2.2h-2.2zM368.6 59.8h4.0v2.52h-4.0zM371.1 62.5h2.2v2.2h-2.2zM373.6 65.0h2.2v2.2h-2.2zM376.1 67.5h2.2v2.2h-2.2zM378.6 70.0h2.2v2.2h-2.2zM381.1 72.6h2.2v2.2h-2.2zM383.6 75.1h2.2v2.2h-2.2zM386.1 77.6h2.2v2.2h-2.2zM388.6 80.2h2.2v2.2h-2.2zM391.1 82.7h2.2v2.2h-2.2zM391.1 84.0h11.0v1.00h-11.0z" fill="#111"/><path d="M393.4 44.8h2.2v2.2h-2.2zM395.9 47.3h2.2v2.2h-2.2zM398.4 49.9h2.2v2.2h-2.2zM398.4 49.6h6.0v2.52h-6.0zM400.9 52.4h2.2v2.2h-2.2zM400.9 52.2h14.0v2.52h-14.0zM403.4 54.9h2.2v2.2h-2.2zM403.4 54.7h20.0v2.52h-20.0zM405.8 57.4h2.2v2.2h-2.2zM405.8 57.2h6.0v2.52h-6.0zM408.3 60.0h2.2v2.2h-2.2zM408.3 59.8h2.0v2.52h-2.0zM410.8 62.5h2.2v2.2h-2.2zM413.3 65.0h2.2v2.2h-2.2zM415.8 67.5h2.2v2.2h-2.2zM418.3 70.0h2.2v2.2h-2.2zM420.8 72.6h2.2v2.2h-2.2zM423.3 75.1h2.2v2.2h-2.2zM425.8 77.6h2.2v2.2h-2.2zM428.3 80.2h2.2v2.2h-2.2zM430.8 82.7h2.2v2.2h-2.2zM430.8 84.0h9.0v1.00h-9.0z" fill="#111"/><path d="M433.2 44.8h2.2v2.2h-2.2zM433.2 44.6h23.0v2.52h-23.0zM435.7 47.3h2.2v2.2h-2.2zM438.2 49.9h2.2v2.2h-2.2zM438.2 49.6h16.0v2.52h-16.0zM440.7 52.4h2.2v2.2h-2.2zM440.7 52.2h26.0v2.52h-26.0zM443.2 54.9h2.2v2.2h-2.2zM443.2 54.7h18.0v2.52h-18.0zM445.6 57.4h2.2v2.2h-2.2zM445.6 57.2h6.0v2.52h-6.0zM448.4 60.1h1.6v1.6h-1.6zM448.1 59.8h2.0v2.52h-2.0zM450.9 62.7h1.6v1.6h-1.6zM453.4 65.2h1.6v1.6h-1.6zM455.9 67.7h1.6v1.6h-1.6zM458.4 70.2h1.6v1.6h-1.6zM460.9 72.8h1.6v1.6h-1.6zM463.4 75.3h1.6v1.6h-1.6zM465.9 77.8h1.6v1.6h-1.6zM468.4 80.4h1.6v1.6h-1.6zM470.9 82.9h1.6v1.6h-1.6z" fill="#111"/><path d="M473.4 44.8h2.2v2.2h-2.2zM473.4 44.6h4.0v2.52h-4.0zM475.9 47.3h2.2v2.2h-2.2zM475.9 47.1h6.0v2.52h-6.0zM478.4 49.9h2.2v2.2h-2.2zM478.4 49.6h8.0v2.52h-8.0zM480.9 52.4h2.2v2.2h-2.2zM480.9 52.2h26.0v2.52h-26.0zM483.4 54.9h2.2v2.2h-2.2zM483.4 54.7h8.0v2.52h-8.0zM485.8 57.4h2.2v2.2h-2.2zM485.8 57.2h21.0v2.52h-21.0zM488.3 60.0h2.2v2.2h-2.2zM488.3 59.8h8.0v2.52h-8.0zM490.8 62.5h2.2v2.2h-2.2zM490.8 62.3h19.0v2.52h-19.0zM493.3 65.0h2.2v2.2h-2.2zM493.3 64.8h7.0v2.52h-7.0zM495.8 67.5h2.2v2.2h-2.2zM495.8 67.3h11.0v2.52h-11.0zM498.3 70.0h2.2v2.2h-2.2zM498.3 69.8h9.0v2.52h-9.0zM500.8 72.6h2.2v2.2h-2.2zM500.8 72.4h10.0v2.52h-10.0zM503.3 75.1h2.2v2.2h-2.2zM503.3 74.9h7.0v2.52h-7.0zM505.8 77.6h2.2v2.2h-2.2zM505.8 77.4h6.0v2.52h-6.0zM508.3 80.2h2.2v2.2h-2.2zM508.3 80.0h5.0v2.52h-5.0zM510.8 82.7h2.2v2.2h-2.2zM510.8 84.0h4.0v1.00h-4.0z" fill="#111"/><rect x="196" y="44.6" width="320" height="40.4" fill="none" stroke="#8c8c8c" stroke-width="0.9"/><text transform="translate(207 40.6) rotate(-90)" text-anchor="start" font-size="8.2" font-weight="normal" font-style="italic" fill="#1c3434">CEBPA</text><text transform="translate(215.8 40.6) rotate(-90)" font-size="8" font-weight="bold" font-style="italic"><tspan fill="#7cbb3c">wt</tspan><tspan fill="#333"> / </tspan><tspan fill="#d42020">mut</tspan></text><text transform="translate(237.3 40.6) rotate(-90)" text-anchor="start" font-size="8.1" font-weight="bold" font-style="italic" fill="#000">CD7</text><text transform="translate(275.5 40.6) rotate(-90)" text-anchor="start" font-size="8.1" font-weight="bold" font-style="italic" fill="#000">CD3D</text><text transform="translate(316 40.6) rotate(-90)" text-anchor="start" font-size="8.1" font-weight="bold" font-style="italic" fill="#000">CD3Z</text><text transform="translate(355.5 40.6) rotate(-90)" text-anchor="start" font-size="8.1" font-weight="bold" font-style="italic" fill="#000">CD3G</text><text transform="translate(396.2 40.6) rotate(-90)" text-anchor="start" font-size="8.1" font-weight="bold" font-style="italic" fill="#000">LCK</text><text transform="translate(437.6 40.6) rotate(-90)" text-anchor="start" font-size="8.1" font-weight="bold" font-style="italic" fill="#000">TRD@</text><text transform="translate(473.3 40.6) rotate(-90)" text-anchor="start" font-size="8.1" font-weight="bold" font-style="italic" fill="#000">NOTCH1</text><defs><radialGradient id="rg"><stop offset="0" stop-color="#000"/><stop offset=".5" stop-color="#000" stop-opacity=".85"/><stop offset="1" stop-color="#000" stop-opacity="0"/></radialGradient><filter id="stip" color-interpolation-filters="sRGB" filterUnits="userSpaceOnUse" x="80" y="310" width="400" height="225"><feGaussianBlur in="SourceAlpha" stdDeviation="1.8" result="d"/><feTurbulence type="fractalNoise" baseFrequency="1.4" numOctaves="2" seed="4" result="n"/><feColorMatrix in="n" type="matrix" values="0 0 0 0 0 0 0 0 0 0 0 0 0 0 0 4.3 0 0 0 -1.65" result="na"/><feComposite in="d" in2="na" operator="arithmetic" k1="-1.2" k2="1.6" k3="0" k4="0"/><feColorMatrix type="matrix" values="0 0 0 0 0 0 0 0 0 0 0 0 0 0 0 0 0 0 0.62 0" result="s1"/><feTurbulence type="fractalNoise" baseFrequency="1.4" numOctaves="2" seed="11" result="n2"/><feColorMatrix in="n2" type="matrix" values="0 0 0 0 0 0 0 0 0 0 0 0 0 0 0 4.3 0 0 0 -1.65" result="nb"/><feComposite in="d" in2="nb" operator="arithmetic" k2="2.55" k3="-2.4" k4="0"/><feColorMatrix type="matrix" values="0 0 0 0 0 0 0 0 0 0 0 0 0 0 0 0 0 0 1 0"/><feComposite in2="s1" operator="over"/><feColorMatrix type="matrix" values="0 0 0 0 0 0 0 0 0 0 0 0 0 0 0 0 0 0 1 0"/><feGaussianBlur stdDeviation="0.25"/></filter></defs><g filter="url(#stip)"><ellipse cx="145" cy="349" rx="12" ry="10" fill="url(#rg)" fill-opacity="1.0"/><ellipse cx="150" cy="341" rx="7" ry="6" fill="url(#rg)" fill-opacity="0.72"/><ellipse cx="140" cy="351" rx="20" ry="15" fill="url(#rg)" fill-opacity="0.34"/><ellipse cx="118" cy="352" rx="18" ry="11" fill="url(#rg)" fill-opacity="0.26"/><ellipse cx="152" cy="371" rx="7" ry="14" fill="url(#rg)" fill-opacity="0.4"/><ellipse cx="136" cy="362" rx="34" ry="30" fill="url(#rg)" fill-opacity="0.13"/><ellipse cx="108" cy="396" rx="4" ry="7" fill="url(#rg)" fill-opacity="0.1"/><ellipse cx="150" cy="400" rx="6" ry="8" fill="url(#rg)" fill-opacity="0.08"/><ellipse cx="283" cy="364" rx="13" ry="9" transform="rotate(-10 283 364)" fill="url(#rg)" fill-opacity="1.0"/><ellipse cx="279" cy="368" rx="21" ry="13" fill="url(#rg)" fill-opacity="0.302"/><ellipse cx="258" cy="366" rx="20" ry="10" fill="url(#rg)" fill-opacity="0.238"/><ellipse cx="272" cy="383" rx="27" ry="16" fill="url(#rg)" fill-opacity="0.194"/><ellipse cx="291" cy="380" rx="9" ry="15" fill="url(#rg)" fill-opacity="0.238"/><ellipse cx="268" cy="398" rx="26" ry="11" fill="url(#rg)" fill-opacity="0.086"/><ellipse cx="429" cy="373" rx="10" ry="14" transform="rotate(30 429 373)" fill="url(#rg)" fill-opacity="1.0"/><ellipse cx="440" cy="358" rx="7" ry="12" transform="rotate(35 440 358)" fill="url(#rg)" fill-opacity="0.55"/><ellipse cx="424" cy="378" rx="21" ry="21" transform="rotate(30 424 378)" fill="url(#rg)" fill-opacity="0.36"/><ellipse cx="405" cy="381" rx="17" ry="23" fill="url(#rg)" fill-opacity="0.17"/><ellipse cx="396" cy="385" rx="5" ry="30" fill="url(#rg)" fill-opacity="0.2"/><ellipse cx="415" cy="398" rx="25" ry="11" fill="url(#rg)" fill-opacity="0.11"/><ellipse cx="145" cy="471" rx="12" ry="11" fill="url(#rg)" fill-opacity="1.0"/><ellipse cx="143" cy="473" rx="20" ry="19" fill="url(#rg)" fill-opacity="0.48"/><ellipse cx="136" cy="482" rx="30" ry="28" fill="url(#rg)" fill-opacity="0.12"/><ellipse cx="110" cy="482" rx="13" ry="25" fill="url(#rg)" fill-opacity="0.1"/><ellipse cx="279" cy="474" rx="13" ry="9" fill="url(#rg)" fill-opacity="1.0"/><ellipse cx="279" cy="480" rx="20" ry="18" fill="url(#rg)" fill-opacity="0.379"/><ellipse cx="287" cy="490" rx="9" ry="16" fill="url(#rg)" fill-opacity="0.302"/><ellipse cx="274" cy="490" rx="26" ry="28" fill="url(#rg)" fill-opacity="0.108"/><ellipse cx="268" cy="505" rx="22" ry="10" fill="url(#rg)" fill-opacity="0.13"/><ellipse cx="246" cy="511" rx="12" ry="8" fill="url(#rg)" fill-opacity="0.13"/><ellipse cx="433" cy="481" rx="15" ry="9" transform="rotate(-35 433 481)" fill="url(#rg)" fill-opacity="1.0"/><ellipse cx="429" cy="483" rx="24" ry="14" transform="rotate(-35 429 483)" fill="url(#rg)" fill-opacity="0.346"/><ellipse cx="425" cy="488" rx="32" ry="20" transform="rotate(-35 425 488)" fill="url(#rg)" fill-opacity="0.108"/><ellipse cx="398" cy="498" rx="9" ry="15" fill="url(#rg)" fill-opacity="0.13"/><ellipse cx="420" cy="500" rx="18" ry="7" fill="url(#rg)" fill-opacity="0.086"/></g><rect x="87.5" y="317.5" width="102" height="98" fill="none" stroke="#909090" stroke-width="1"/><path d="M114.5 317.5V415.5M87.5 389.5H189.5" stroke="#969696" stroke-width="1"/><text x="185.9" y="328.1" text-anchor="end" font-size="9.2" fill="#000">89.9%</text><rect x="226.5" y="317.5" width="102" height="98" fill="none" stroke="#909090" stroke-width="1"/><path d="M253.5 317.5V415.5M226.5 388.5H328.5" stroke="#969696" stroke-width="1"/><text x="324.9" y="328.1" text-anchor="end" font-size="9.2" fill="#000">85.1%</text><rect x="372.5" y="317.5" width="101" height="98" fill="none" stroke="#909090" stroke-width="1"/><path d="M399.5 317.5V415.5M372.5 390.5H473.5" stroke="#969696" stroke-width="1"/><text x="469.9" y="328.1" text-anchor="end" font-size="9.2" fill="#000">91.7%</text><rect x="87.5" y="429.5" width="102" height="99" fill="none" stroke="#909090" stroke-width="1"/><path d="M116.5 429.5V528.5M87.5 502.5H189.5" stroke="#969696" stroke-width="1"/><text x="185.9" y="440.1" text-anchor="end" font-size="9.2" fill="#000">87.0%</text><rect x="226.5" y="429.5" width="102" height="99" fill="none" stroke="#909090" stroke-width="1"/><path d="M255.5 429.5V528.5M226.5 502.5H328.5" stroke="#969696" stroke-width="1"/><text x="324.9" y="440.1" text-anchor="end" font-size="9.2" fill="#000">77.8%</text><rect x="372.5" y="429.5" width="101" height="99" fill="none" stroke="#909090" stroke-width="1"/><path d="M399.5 429.5V528.5M372.5 502.5H473.5" stroke="#969696" stroke-width="1"/><text x="469.9" y="440.1" text-anchor="end" font-size="9.2" fill="#000">87.8%</text><g font-size="4.8" fill="#333"><text transform="translate(84.7 328.0) rotate(-90)" text-anchor="middle">10<tspan dy="-1.2" font-size="3">5</tspan></text><text transform="translate(84.7 349.5) rotate(-90)" text-anchor="middle">10<tspan dy="-1.2" font-size="3">4</tspan></text><text transform="translate(84.7 373.0) rotate(-90)" text-anchor="middle">10<tspan dy="-1.2" font-size="3">3</tspan></text><text transform="translate(84.7 393.5) rotate(-90)" text-anchor="middle">10<tspan dy="-1.2" font-size="3">2</tspan></text><text transform="translate(84.7 400.0) rotate(-90)" text-anchor="middle">0</text><text x="108.0" y="421.3" text-anchor="middle">0</text><text x="129.0" y="421.3" text-anchor="middle">10<tspan dy="-1.2" font-size="3">3</tspan></text><text x="155.5" y="421.3" text-anchor="middle">10<tspan dy="-1.2" font-size="3">4</tspan></text><text x="178.5" y="421.3" text-anchor="middle">10<tspan dy="-1.2" font-size="3">5</tspan></text><text transform="translate(223.7 328.0) rotate(-90)" text-anchor="middle">10<tspan dy="-1.2" font-size="3">5</tspan></text><text transform="translate(223.7 349.5) rotate(-90)" text-anchor="middle">10<tspan dy="-1.2" font-size="3">4</tspan></text><text transform="translate(223.7 373.0) rotate(-90)" text-anchor="middle">10<tspan dy="-1.2" font-size="3">3</tspan></text><text transform="translate(223.7 393.5) rotate(-90)" text-anchor="middle">10<tspan dy="-1.2" font-size="3">2</tspan></text><text transform="translate(223.7 400.0) rotate(-90)" text-anchor="middle">0</text><text x="247.0" y="421.3" text-anchor="middle">0</text><text x="268.0" y="421.3" text-anchor="middle">10<tspan dy="-1.2" font-size="3">3</tspan></text><text x="294.5" y="421.3" text-anchor="middle">10<tspan dy="-1.2" font-size="3">4</tspan></text><text x="317.5" y="421.3" text-anchor="middle">10<tspan dy="-1.2" font-size="3">5</tspan></text><text transform="translate(369.7 328.0) rotate(-90)" text-anchor="middle">10<tspan dy="-1.2" font-size="3">5</tspan></text><text transform="translate(369.7 349.5) rotate(-90)" text-anchor="middle">10<tspan dy="-1.2" font-size="3">4</tspan></text><text transform="translate(369.7 373.0) rotate(-90)" text-anchor="middle">10<tspan dy="-1.2" font-size="3">3</tspan></text><text transform="translate(369.7 393.5) rotate(-90)" text-anchor="middle">10<tspan dy="-1.2" font-size="3">2</tspan></text><text transform="translate(369.7 400.0) rotate(-90)" text-anchor="middle">0</text><text x="393.0" y="421.3" text-anchor="middle">0</text><text x="414.0" y="421.3" text-anchor="middle">10<tspan dy="-1.2" font-size="3">3</tspan></text><text x="440.5" y="421.3" text-anchor="middle">10<tspan dy="-1.2" font-size="3">4</tspan></text><text x="463.5" y="421.3" text-anchor="middle">10<tspan dy="-1.2" font-size="3">5</tspan></text><text transform="translate(84.7 440.0) rotate(-90)" text-anchor="middle">10<tspan dy="-1.2" font-size="3">5</tspan></text><text transform="translate(84.7 461.5) rotate(-90)" text-anchor="middle">10<tspan dy="-1.2" font-size="3">4</tspan></text><text transform="translate(84.7 485.0) rotate(-90)" text-anchor="middle">10<tspan dy="-1.2" font-size="3">3</tspan></text><text transform="translate(84.7 505.5) rotate(-90)" text-anchor="middle">10<tspan dy="-1.2" font-size="3">2</tspan></text><text transform="translate(84.7 512.0) rotate(-90)" text-anchor="middle">0</text><text x="108.0" y="534.3" text-anchor="middle">0</text><text x="129.0" y="534.3" text-anchor="middle">10<tspan dy="-1.2" font-size="3">3</tspan></text><text x="155.5" y="534.3" text-anchor="middle">10<tspan dy="-1.2" font-size="3">4</tspan></text><text x="178.5" y="534.3" text-anchor="middle">10<tspan dy="-1.2" font-size="3">5</tspan></text><text transform="translate(223.7 440.0) rotate(-90)" text-anchor="middle">10<tspan dy="-1.2" font-size="3">5</tspan></text><text transform="translate(223.7 461.5) rotate(-90)" text-anchor="middle">10<tspan dy="-1.2" font-size="3">4</tspan></text><text transform="translate(223.7 485.0) rotate(-90)" text-anchor="middle">10<tspan dy="-1.2" font-size="3">3</tspan></text><text transform="translate(223.7 505.5) rotate(-90)" text-anchor="middle">10<tspan dy="-1.2" font-size="3">2</tspan></text><text transform="translate(223.7 512.0) rotate(-90)" text-anchor="middle">0</text><text x="247.0" y="534.3" text-anchor="middle">0</text><text x="268.0" y="534.3" text-anchor="middle">10<tspan dy="-1.2" font-size="3">3</tspan></text><text x="294.5" y="534.3" text-anchor="middle">10<tspan dy="-1.2" font-size="3">4</tspan></text><text x="317.5" y="534.3" text-anchor="middle">10<tspan dy="-1.2" font-size="3">5</tspan></text><text transform="translate(369.7 440.0) rotate(-90)" text-anchor="middle">10<tspan dy="-1.2" font-size="3">5</tspan></text><text transform="translate(369.7 461.5) rotate(-90)" text-anchor="middle">10<tspan dy="-1.2" font-size="3">4</tspan></text><text transform="translate(369.7 485.0) rotate(-90)" text-anchor="middle">10<tspan dy="-1.2" font-size="3">3</tspan></text><text transform="translate(369.7 505.5) rotate(-90)" text-anchor="middle">10<tspan dy="-1.2" font-size="3">2</tspan></text><text transform="translate(369.7 512.0) rotate(-90)" text-anchor="middle">0</text><text x="393.0" y="534.3" text-anchor="middle">0</text><text x="414.0" y="534.3" text-anchor="middle">10<tspan dy="-1.2" font-size="3">3</tspan></text><text x="440.5" y="534.3" text-anchor="middle">10<tspan dy="-1.2" font-size="3">4</tspan></text><text x="463.5" y="534.3" text-anchor="middle">10<tspan dy="-1.2" font-size="3">5</tspan></text></g><text x="0.2" y="329.6" font-size="15.6" font-weight="bold">B</text><text x="1.5" y="380.2" font-size="16.8">#2238</text><text x="4" y="482.3" font-size="16.3">#3491</text><path d="M72.0 529V324H69.2L73.5 317.8L77.8 324H75.0V529Z" fill="#000"/><path d="M212.0 529V324H209.2L213.5 317.8L217.8 324H215.0V529Z" fill="#000"/><path d="M357.8 529V324H355.0L359.3 317.8L363.6 324H360.8V529Z" fill="#000"/><path d="M87 541.2H466.5V538.4L473.8 542.7L466.5 547V544.2H87Z" fill="#000"/><text transform="translate(68.6 427) rotate(-90)" text-anchor="middle" font-size="12.5" font-weight="normal" font-style="normal" fill="#000" >CD7</text><text transform="translate(208.8 428) rotate(-90)" text-anchor="middle" font-size="13.3" font-weight="normal" font-style="normal" fill="#000" >TdT</text><text transform="translate(356.2 426.5) rotate(-90)" text-anchor="middle" font-size="12.7" font-weight="normal" font-style="normal" fill="#000" >CD13</text><text x="273.3" y="557.4" font-size="12.4" text-anchor="middle">CD34</text></svg>
</body></html>
